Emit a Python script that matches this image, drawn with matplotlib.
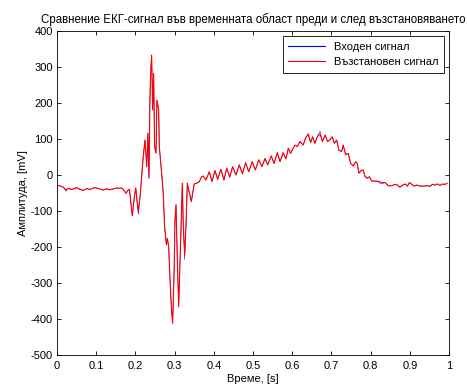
import matplotlib
matplotlib.use("Agg")
import matplotlib.pyplot as plt

plt.rcParams['font.family'] = ['Liberation Sans', 'DejaVu Sans']
plt.rcParams['font.size'] = 8
plt.rcParams['axes.unicode_minus'] = False

# time samples [s] and input ECG amplitude [mV]
time_s = [
    0.000, 0.008, 0.016, 0.023, 0.029, 0.036, 0.042, 0.050, 0.059, 0.067,
    0.076, 0.084, 0.091, 0.097, 0.104, 0.110, 0.118, 0.127, 0.133, 0.140,
    0.146, 0.152, 0.158, 0.165, 0.169, 0.176, 0.181, 0.185, 0.192, 0.198,
    0.201, 0.204, 0.2075, 0.212, 0.216, 0.220, 0.2245, 0.229, 0.232, 0.2347,
    0.237, 0.239, 0.2415, 0.244, 0.2466, 0.249, 0.2526, 0.255, 0.2594, 0.261,
    0.267, 0.271, 0.2745, 0.279, 0.2816, 0.2849, 0.288, 0.2917, 0.295, 0.2985,
    0.301, 0.3036, 0.307, 0.3104, 0.3138, 0.317, 0.3197, 0.322, 0.3257, 0.329,
    0.3325, 0.336, 0.3393, 0.3427, 0.346, 0.350, 0.356, 0.363, 0.369, 0.373,
    0.380, 0.3886, 0.3954, 0.403, 0.410, 0.418, 0.426, 0.433, 0.4405, 0.448,
    0.4566, 0.465, 0.473, 0.481, 0.489, 0.498, 0.506, 0.5145, 0.523, 0.5306,
    0.5375, 0.5467, 0.5536, 0.562, 0.569, 0.577, 0.584, 0.590, 0.596, 0.600,
    0.607, 0.613, 0.620, 0.628, 0.634, 0.641, 0.647, 0.652, 0.658, 0.664,
    0.671, 0.677, 0.684, 0.690, 0.696, 0.702, 0.7075, 0.7135, 0.719, 0.726,
    0.730, 0.7365, 0.743, 0.749, 0.756, 0.762, 0.766, 0.770, 0.7755, 0.781,
    0.786, 0.792, 0.797, 0.803, 0.816, 0.822, 0.828, 0.837, 0.845, 0.854,
    0.862, 0.868, 0.875, 0.882, 0.889, 0.894, 0.899, 0.905, 0.911, 0.918,
    0.926, 0.934, 0.943, 0.952, 0.958, 0.964, 0.970, 0.977, 0.984, 0.990,
    0.995,
]
input_mv = [
    -30, -30, -34, -45, -37, -40, -39, -35, -40, -43,
    -38, -40, -37, -35, -37, -39, -42, -38, -41, -40,
    -38, -36, -37, -36, -40, -51, -42, -40, -113, -55,
    -36, -70, -110, -60, -5, 51, 97, 23, 116, -9,
    204, 287, 333, 181, 282, 79, 61, 208, 181, 79,
    5, -50, -143, -194, -176, -199, -282, -366, -412, -282,
    -125, -83, -236, -366, -245, -125, -23, -134, -235, -143,
    -23, -42, -56, -74, -51, -25, -23, -19, -5, -3,
    -14, 9, -18, 12, -12, 16, -14, 19, -6, 23,
    0, 28, 3, 34, 9, 37, 14, 42, 23, 46,
    28, 53, 32, 62, 37, 62, 45, 74, 60, 69,
    83, 79, 93, 83, 102, 114, 90, 106, 88, 106,
    122, 93, 111, 93, 97, 106, 88, 97, 69, 65,
    83, 56, 60, 32, 25, 37, 32, 5, 12, 14,
    -5, -9, -5, -17, -17, -22, -25, -21, -30, -30,
    -26, -28, -34, -28, -25, -31, -21, -26, -31, -28,
    -31, -31, -30, -31, -26, -28, -25, -29, -25, -26,
    -23,
]
# reconstructed signal differs from the input only at these samples
recon_changes = {0.023: -41, 0.2075: -100, 0.3257: -222, 0.671: 114,
                 0.822: -18, 0.828: -21}
recon_mv = [recon_changes.get(t, v) for t, v in zip(time_s, input_mv)]

fig = plt.figure(figsize=(4.67, 3.92), dpi=100)
ax = fig.add_axes([0.122, 0.0944, 0.8395, 0.8266])

ax.plot(time_s, input_mv, color=(0, 0, 1), lw=0.35, label='Входен сигнал')
ax.plot(time_s, recon_mv, color=(1, 0, 0), lw=0.8, label='Възстановен сигнал')

ax.set_xlim(0, 1)
ax.set_ylim(-500, 400)
ax.set_xticks([i / 10 for i in range(11)])
ax.set_xticklabels(['0', '0.1', '0.2', '0.3', '0.4', '0.5', '0.6', '0.7', '0.8', '0.9', '1'])
ax.set_yticks(range(-500, 401, 100))
ax.tick_params(direction='in', length=3, width=0.6, top=True, right=True)
ax.tick_params(axis='x', pad=4.5)
ax.tick_params(axis='y', pad=3)
for sp in ax.spines.values():
    sp.set_linewidth(0.6)

ax.set_title('Сравнение ЕКГ-сигнал във временната област преди и след възстановяването',
             fontsize=8.3, pad=6)
ax.set_xlabel('Време, [s]', labelpad=2)
ax.set_ylabel('Амплитуда, [mV]', labelpad=2)

leg = ax.legend(loc='upper right', fancybox=False, framealpha=1, edgecolor='black',
                handlelength=3.3, borderaxespad=0.45, borderpad=0.5, labelspacing=0.5)
leg.get_frame().set_linewidth(0.6)
# legend swatches drawn a bit heavier than the traces
for h in leg.get_lines():
    h.set_linewidth(0.8)

fig.savefig('out.png', dpi=100)
